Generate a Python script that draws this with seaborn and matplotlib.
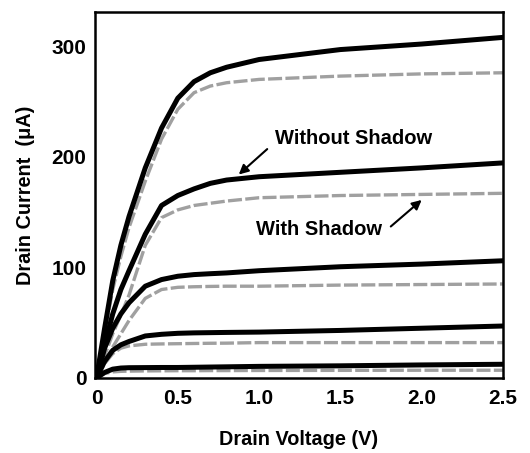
import matplotlib
matplotlib.use("Agg")
import matplotlib.pyplot as plt
import seaborn as sns
import numpy as np

# Drain voltage grid (V)
voltage = [0, 0.05, 0.1, 0.15, 0.2, 0.3, 0.4, 0.5, 0.6, 0.7, 0.8, 1.0, 1.5, 2.0, 2.5]

# Without shadow (solid) drain current (uA)
solid_1 = [0, 45, 88, 120, 146, 190, 226, 253, 268, 276, 281, 288, 297, 302, 308]
solid_2 = [0, 30, 58, 80, 97, 130, 156, 165, 171, 176, 179, 182, 186, 190, 194.5]
solid_3 = [0, 27, 45, 58, 68, 83, 89, 92, 93.5, 94.3, 95, 97, 100.6, 103, 106]
solid_4 = [0, 15, 25, 30, 33, 38, 39.5, 40.4, 40.8, 41, 41.2, 41.5, 43, 45, 47]
solid_5 = [0, 5, 8, 9, 9.3, 9.4, 9.5, 9.5, 9.7, 9.9, 10.1, 10.5, 11, 11.8, 12.4]

# With shadow (grey dashed) drain current (uA)
dashed_1 = [0, 40, 80, 110, 136, 178, 216, 243, 258, 264, 267, 270, 273, 275, 276]
dashed_2 = [0, 20, 40, 57, 75, 120, 145, 152, 156, 158, 160, 163, 165, 166, 167]
dashed_3 = [0, 14, 28, 40, 52, 72, 80, 82, 82.5, 82.8, 83, 83, 84, 84.5, 85]
dashed_4 = [0, 13, 22, 27, 29, 30.5, 30.8, 31, 31.2, 31.4, 31.5, 32, 32, 32, 32]
dashed_5 = [0, 4, 5.5, 6, 6.2, 6.4, 6.5, 6.6, 6.6, 6.7, 6.7, 6.8, 6.9, 7, 7]

x_ticks = [0, 0.5, 1.0, 1.5, 2.0, 2.5]
x_tick_labels = ["0", "0.5", "1.0", "1.5", "2.0", "2.5"]
y_ticks = [0, 100, 200, 300]
y_tick_labels = ["0", "100", "200", "300"]

sns.set_theme(style="white")
plt.rcParams['font.family'] = ['Liberation Sans', 'DejaVu Sans']
plt.rcParams['font.weight'] = 'bold'

fig = plt.figure(figsize=(5.3, 4.53), dpi=100)
ax = fig.add_axes([0.179, 0.1656, 0.770, 0.808])

for d in [dashed_1, dashed_2, dashed_3, dashed_4, dashed_5]:
    sns.lineplot(x=voltage, y=d, ax=ax, color="#a0a0a0", lw=2.4,
                 sort=False, estimator=None)
    ax.lines[-1].set_dashes((4.2, 1.0))

for s in [solid_1, solid_2, solid_3, solid_4, solid_5]:
    sns.lineplot(x=voltage, y=s, ax=ax, color="black", lw=3.6,
                 sort=False, estimator=None)

ax.set_xlim(-0.01, 2.49)
ax.set_ylim(0, 331)
ax.set_xticks(x_ticks)
ax.set_xticklabels(x_tick_labels)
ax.set_yticks(y_ticks)
ax.set_yticklabels(y_tick_labels)
ax.tick_params(axis='both', direction='in', length=7, width=1.5,
               labelsize=15, colors='black', pad=6)
ax.tick_params(axis='x', pad=8)
for lab in ax.get_xticklabels() + ax.get_yticklabels():
    lab.set_fontweight('bold')

for sp in ax.spines.values():
    sp.set_visible(True)
    sp.set_color('black')
    sp.set_linewidth(1.8)

ax.set_xlabel("Drain Voltage (V)", fontsize=14.3, fontweight='bold',
              color='black', labelpad=16)
ax.set_ylabel("Drain Current  (\u03bcA)", fontsize=14.3, fontweight='bold',
              color='black', labelpad=12)

ax.text(1.58, 217, "Without Shadow", fontsize=14.5, fontweight='bold',
        color='black', ha='center', va='center')
ax.annotate("", xy=(0.875, 184), xytext=(1.05, 207),
            arrowprops=dict(arrowstyle='-|>', color='black', lw=1.5,
                            shrinkA=0, shrinkB=0, mutation_scale=14))

ax.text(1.37, 134, "With Shadow", fontsize=14.5, fontweight='bold',
        color='black', ha='center', va='center')
ax.annotate("", xy=(2.0, 161), xytext=(1.81, 137),
            arrowprops=dict(arrowstyle='-|>', color='black', lw=1.5,
                            shrinkA=0, shrinkB=0, mutation_scale=14))

fig.savefig("out.png", dpi=100)
